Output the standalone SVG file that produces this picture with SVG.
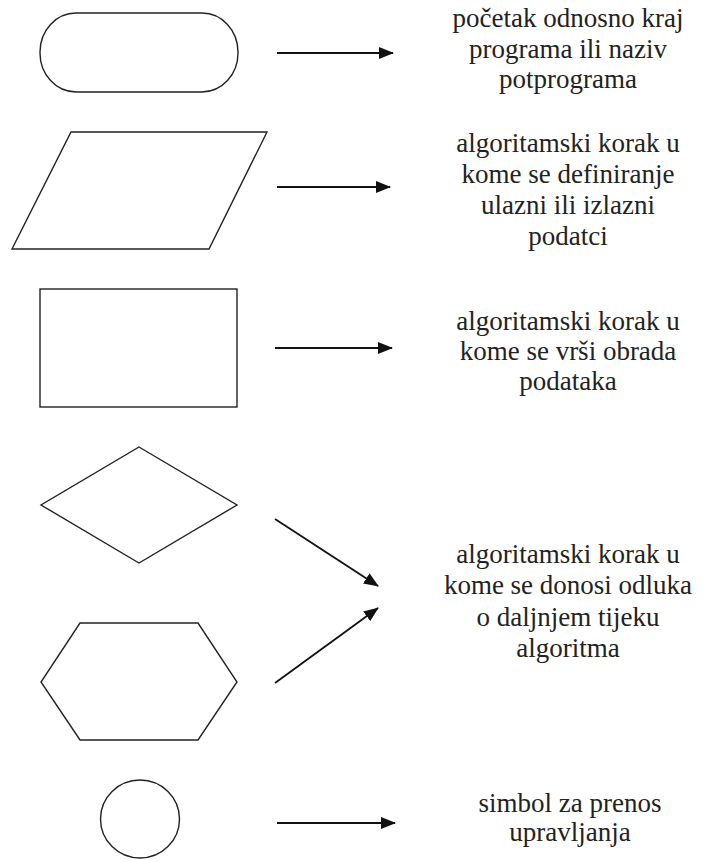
<svg xmlns="http://www.w3.org/2000/svg" width="703" height="861" viewBox="0 0 703 861">
<style>
.shape{fill:none;stroke:#222;stroke-width:1.4}
.conn{fill:none;stroke:#111;stroke-width:1.8}
text{font-family:'Liberation Serif','Times New Roman',Tinos,'DejaVu Serif',serif;font-size:27px;fill:#222;text-anchor:middle}
</style>
<defs>
<marker id="ah" markerUnits="userSpaceOnUse" markerWidth="16" markerHeight="12" refX="14" refY="6" orient="auto">
<path d="M0,0 L15,6 L0,12 Z" fill="#111"/>
</marker>
</defs>
<rect width="703" height="861" fill="#fff"/>
<g id="terminal"><rect class="shape" x="40" y="13" width="198" height="79" rx="36" ry="39"/></g>
<g id="io"><polygon class="shape" points="71,132 267,132 209,249 12,249"/></g>
<g id="process"><rect class="shape" x="40" y="289" width="197" height="118"/></g>
<g id="decision"><polygon class="shape" points="139,447 237,505 139,563 41,505"/></g>
<g id="hexagon"><polygon class="shape" points="80,623 198,623 237,682 198,740 80,740 41,682"/></g>
<g id="connector-circle"><ellipse class="shape" cx="140" cy="819" rx="39.5" ry="39"/></g>
<g id="connectors">
<line class="conn" x1="277" y1="53" x2="393" y2="53" marker-end="url(#ah)"/>
<line class="conn" x1="277" y1="187" x2="390" y2="187" marker-end="url(#ah)"/>
<line class="conn" x1="275" y1="348" x2="392" y2="348" marker-end="url(#ah)"/>
<line class="conn" x1="275" y1="519" x2="378" y2="586" marker-end="url(#ah)"/>
<line class="conn" x1="275" y1="683" x2="378" y2="608" marker-end="url(#ah)"/>
<line class="conn" x1="277" y1="823" x2="395" y2="823" marker-end="url(#ah)"/>
</g>
<g id="label-terminal">
<text x="568" y="27" font-family="Liberation Serif, serif">početak odnosno kraj</text>
<text x="568" y="58" font-family="Liberation Serif, serif">programa ili naziv</text>
<text x="568" y="88" font-family="Liberation Serif, serif">potprograma</text>
</g>
<g id="label-io">
<text x="568" y="152" font-family="Liberation Serif, serif">algoritamski korak u</text>
<text x="568" y="183" font-family="Liberation Serif, serif">kome se definiranje</text>
<text x="568" y="214" font-family="Liberation Serif, serif">ulazni ili izlazni</text>
<text x="568" y="245" font-family="Liberation Serif, serif">podatci</text>
</g>
<g id="label-process">
<text x="568" y="330" font-family="Liberation Serif, serif">algoritamski korak u</text>
<text x="568" y="360" font-family="Liberation Serif, serif">kome se vrši obrada</text>
<text x="568" y="390" font-family="Liberation Serif, serif">podataka</text>
</g>
<g id="label-decision">
<text x="568" y="563" font-family="Liberation Serif, serif">algoritamski korak u</text>
<text x="568" y="594" font-family="Liberation Serif, serif">kome se donosi odluka</text>
<text x="568" y="626" font-family="Liberation Serif, serif">o daljnjem tijeku</text>
<text x="568" y="657" font-family="Liberation Serif, serif">algoritma</text>
</g>
<g id="label-circle">
<text x="570" y="812" font-family="Liberation Serif, serif">simbol za prenos</text>
<text x="570" y="841" font-family="Liberation Serif, serif">upravljanja</text>
</g>
</svg>
